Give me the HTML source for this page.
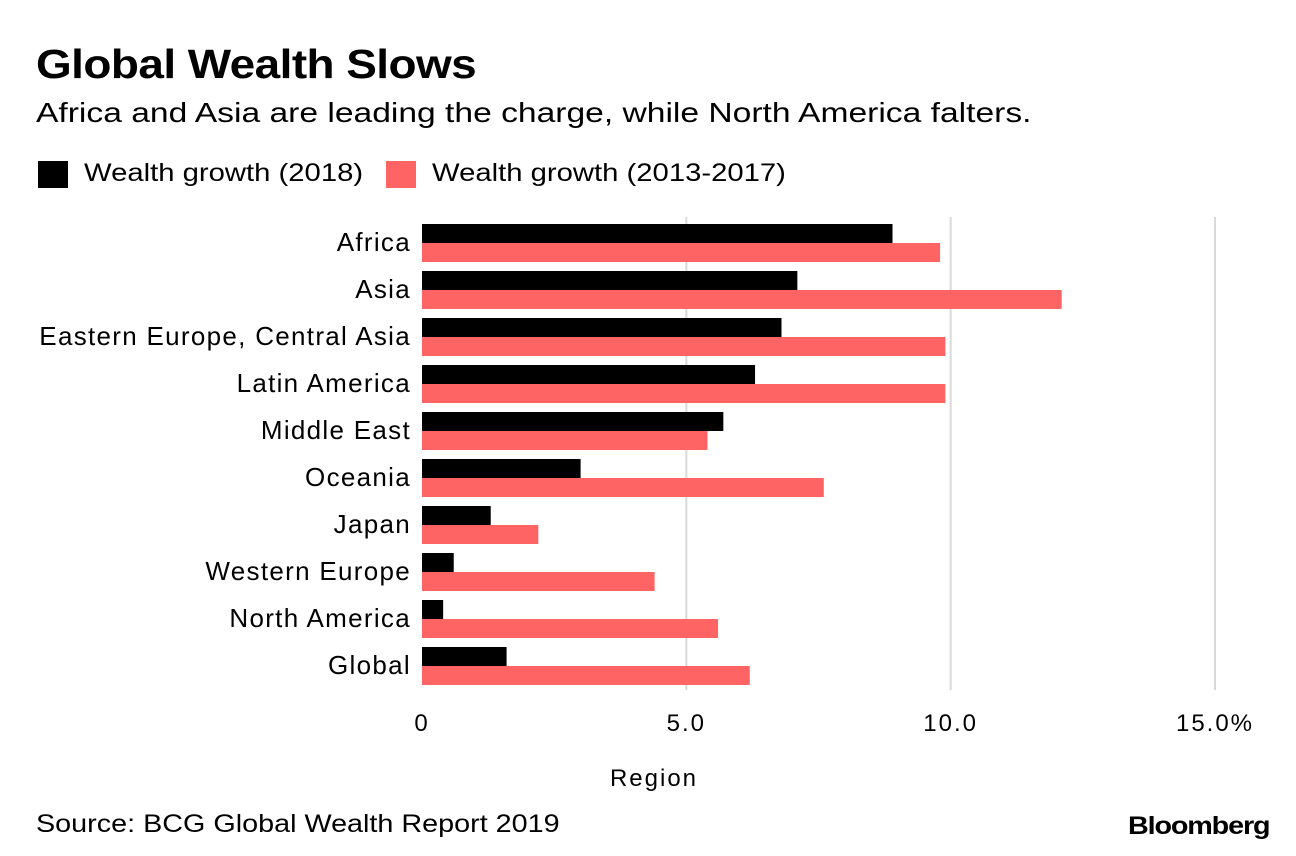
<!DOCTYPE html>
<html><head><meta charset="utf-8"><style>
body{margin:0;background:#fff;font-family:"Liberation Sans",sans-serif;}
#wrap{position:relative;width:1296px;height:856px;overflow:hidden;}
.t{position:absolute;white-space:nowrap;color:#000;transform-origin:left top;}
</style></head><body>
<div id="wrap">
<div class="t" style="left:36px;top:41px;font-size:41px;font-weight:bold;letter-spacing:-0.5px;transform:scaleX(1.12);">Global Wealth Slows</div>
<div class="t" style="left:36px;top:97px;font-size:28px;transform:scaleX(1.2);">Africa and Asia are leading the charge, while North America falters.</div>
<div style="position:absolute;left:38px;top:161px;width:30px;height:27px;background:#000;"></div>
<div class="t" style="left:84px;top:159px;font-size:25px;transform:scaleX(1.17);">Wealth growth (2018)</div>
<div style="position:absolute;left:386px;top:161px;width:30px;height:27px;background:#ff6464;"></div>
<div class="t" style="left:432px;top:159px;font-size:25px;transform:scaleX(1.17);">Wealth growth (2013-2017)</div>
<svg id="chart" width="1296" height="856" style="position:absolute;left:0;top:0;"></svg>
<div class="t" style="left:36px;top:810px;font-size:25px;transform:scaleX(1.15);">Source: BCG Global Wealth Report 2019</div>
<div class="t" style="left:1128px;top:812px;font-size:25px;font-weight:bold;letter-spacing:-1px;transform:scaleX(1.15);">Bloomberg</div>
</div>
<script>
const categories=["Africa","Asia","Eastern Europe, Central Asia","Latin America","Middle East","Oceania","Japan","Western Europe","North America","Global"];
const growth2018=[8.9,7.1,6.8,6.3,5.7,3.0,1.3,0.6,0.4,1.6];
const growth2013_2017=[9.8,12.1,9.9,9.9,5.4,7.6,2.2,4.4,5.6,6.2];
const ticks=[0,5,10,15];
const tickLabels=["0","5.0","10.0","15.0%"];
const NS="http://www.w3.org/2000/svg";
const svg=document.getElementById('chart');
const x0=422,pxPer=(1215-422)/15;
const xs=v=>x0+v*pxPer;
const rowTop=i=>224+i*47;
function mk(tag,attrs){const e=document.createElementNS(NS,tag);for(const k in attrs)e.setAttribute(k,attrs[k]);svg.appendChild(e);return e;}
ticks.forEach((t,i)=>{
  if(t>0){const l=mk('line',{x1:xs(t),x2:xs(t),y1:217,y2:690,stroke:'#d9d9d9','stroke-width':2});
  
  }
  const tx=mk('text',{x:xs(t),y:731,'font-size':24,'letter-spacing':2,'text-anchor':'middle','font-family':'Liberation Sans, sans-serif'});
  tx.textContent=tickLabels[i];
  
  
});
categories.forEach((c,i)=>{
  const y=rowTop(i);
  const b=mk('rect',{x:x0,y:y,width:xs(growth2018[i])-x0,height:19,fill:'#000'});
  
  
  const r=mk('rect',{x:x0,y:y+19,width:xs(growth2013_2017[i])-x0,height:19,fill:'#ff6464'});
  
  
  const t=mk('text',{x:411,y:y+27,'font-size':26,'letter-spacing':1.3,'text-anchor':'end','font-family':'Liberation Sans, sans-serif'});
  t.textContent=c;
  
  
});
const at=mk('text',{x:654,y:786,'font-size':24,'letter-spacing':2,'text-anchor':'middle','font-family':'Liberation Sans, sans-serif'});
at.textContent="Region";


</script>
</body></html>
